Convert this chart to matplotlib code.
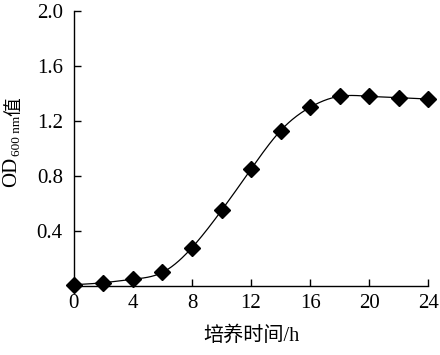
import numpy as np
import matplotlib
matplotlib.use("Agg")
import matplotlib.pyplot as plt

# Data
time_h = [0, 2, 4, 6, 8, 10, 12, 14, 16, 18, 20, 22, 24]
od600 = [0.01, 0.025, 0.05, 0.10, 0.28, 0.55, 0.85, 1.13, 1.30, 1.38, 1.38, 1.37, 1.36]
xticks = [0, 4, 8, 12, 16, 20, 24]
yticks = [0.4, 0.8, 1.2, 1.6, 2.0]
ytick_labels = ["0.4", "0.8", "1.2", "1.6", "2.0"]
xlabel = "培养时间/h"

SERIF = "Liberation Serif"
CJK = "Noto Sans CJK SC"


def natural_spline(x, y, xs):
    x = np.asarray(x, float); y = np.asarray(y, float)
    n = len(x)
    h = np.diff(x)
    A = np.zeros((n, n)); b = np.zeros(n)
    A[0, 0] = 1; A[-1, -1] = 1
    for i in range(1, n - 1):
        A[i, i - 1] = h[i - 1]
        A[i, i] = 2 * (h[i - 1] + h[i])
        A[i, i + 1] = h[i]
        b[i] = 3 * ((y[i + 1] - y[i]) / h[i] - (y[i] - y[i - 1]) / h[i - 1])
    c = np.linalg.solve(A, b)
    bb = (y[1:] - y[:-1]) / h - h * (2 * c[:-1] + c[1:]) / 3
    d = (c[1:] - c[:-1]) / (3 * h)
    idx = np.clip(np.searchsorted(x, xs) - 1, 0, n - 2)
    dx = xs - x[idx]
    return y[idx] + bb[idx] * dx + c[idx] * dx ** 2 + d[idx] * dx ** 3


fig = plt.figure(figsize=(4.4, 3.55), dpi=100)
ax = fig.add_axes([0.168, 0.194, 0.805, 0.775])

xs = np.linspace(time_h[0], time_h[-1], 400)
ax.plot(xs, natural_spline(time_h, od600, xs), color="black", lw=0.9, clip_on=False)
ax.plot(time_h, od600, linestyle="none", marker="D", ms=8, color="black", clip_on=False, zorder=3)

ax.set_xlim(0, 24)
ax.set_ylim(0, 2.0)
ax.spines["top"].set_visible(False)
ax.spines["right"].set_visible(False)
for s in ("left", "bottom"):
    ax.spines[s].set_linewidth(1.0)
ax.set_xticks(xticks)
ax.set_xticklabels([str(v) for v in xticks], fontfamily=SERIF, fontsize=15)
ax.set_yticks(yticks)
ax.set_yticklabels(ytick_labels, fontfamily=SERIF, fontsize=15)
ax.tick_params(axis="both", direction="in", length=5, width=1.0)
ax.tick_params(axis="x", pad=6)
ax.tick_params(axis="y", pad=8)

ax.set_xlabel(xlabel, fontfamily=[SERIF, CJK], fontsize=14.5, labelpad=9)

# y label composed of parts: OD, subscript 600 nm, 值
W, H = 440, 355
def fx(px):
    return px / W
def fy(py):
    return 1 - py / H

fig.text(fx(12), fy(172), "OD", rotation=90, ha="center", va="center",
         fontfamily=SERIF, fontsize=15)
fig.text(fx(17), fy(135.5), "600 nm", rotation=90, ha="center", va="center",
         fontfamily=SERIF, fontsize=9.5)
fig.text(fx(14), fy(107), "值", rotation=90, ha="center", va="center",
         fontfamily=CJK, fontsize=13.5)

fig.savefig("out.png", dpi=100)
